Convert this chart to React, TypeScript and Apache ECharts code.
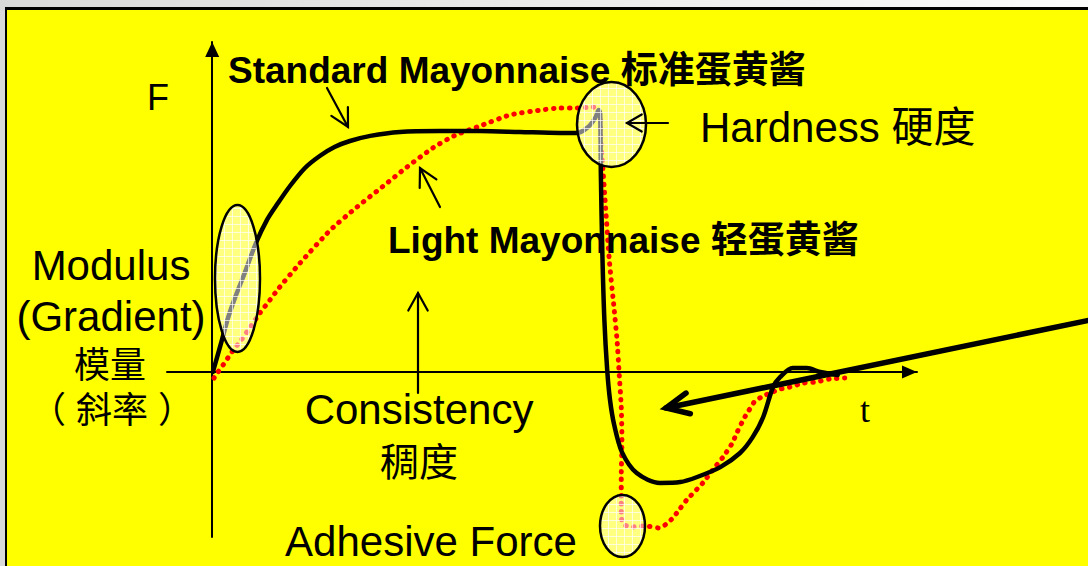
import { useEffect, useRef } from "react";
import * as echarts from "echarts";

// Standard mayonnaise curve: [t, F]
const standardCurve: [number, number][] = [
  [0.1, 0], [1.39, 10.7], [2.25, 18], [3.24, 24.7], [4.67, 33.3], [6.23, 43], [7.8, 50.7],
  [9.36, 56.3], [11.07, 62], [13.2, 68], [15.3, 72], [17.4, 75], [19.6, 77], [22.5, 78.7],
  [26.7, 80], [32.4, 80.3], [38.1, 80.3], [43.8, 80], [49.5, 79.7], [51.9, 79.7], [53.5, 81.7],
  [54.5, 84.7], [55.0, 87.3], [55.2, 86.3], [55.3, 65.7], [55.5, 40.7], [55.8, 17.3],
  [56.2, 0.7], [56.6, -9.3], [57.2, -17.7], [58.3, -26.7], [60.4, -33.7], [63.7, -37], [66.6, -36.7],
  [69.0, -35], [72.3, -31.7], [75.1, -27], [76.9, -21.7], [78.4, -15], [79.8, -5], [80.8, -1.7],
  [82.6, 1.3], [84.6, 1.3], [86.5, 0], [89.0, -1],
];

// Light mayonnaise curve: [t, F]
const lightCurve: [number, number][] = [
  [0.26, -2], [0.83, 0], [1.54, 2.3], [2.82, 6.7], [4.24, 11], [5.52, 15.3], [6.8, 19.7],
  [8.22, 24], [9.5, 28], [12.5, 36.3], [16.8, 47.3], [20.6, 55], [24.2, 61.7], [27.7, 68.3],
  [31.4, 74.7], [34.4, 78.7], [38.1, 82], [42.4, 85.7], [46.7, 87.3], [49.5, 88], [51.9, 88],
  [54.2, 88.3], [54.9, 87.3], [55.2, 85], [55.3, 77.3], [55.5, 70.7], [55.9, 57.3], [56.5, 37.3],
  [57.2, 20.7], [57.6, 10.7], [57.9, -0.3], [58.2, -11.7], [58.3, -22.7], [58.2, -35], [58.2, -42.7],
  [58.2, -48.3], [58.5, -50.7], [59.5, -51.7], [61.6, -51.3], [63.6, -52], [64.6, -50.7], [65.4, -49],
  [66.1, -47], [67.5, -42.7], [69.8, -37], [71.2, -32.7], [72.7, -28.3], [74.0, -23.7], [74.7, -20],
  [75.4, -16.7], [76.1, -13.7], [76.8, -11.3], [77.2, -9.7], [78.2, -8.3], [79.4, -7], [80.8, -5.7],
  [82.2, -5], [84.1, -3.7], [86.0, -3.3], [87.9, -2.3], [90.0, -2],
];

const X_MIN = -6.43;
const X_MAX = 100.28;
const Y_MIN = -55;
const Y_MAX = 110;

const SANS = "'Liberation Sans', Arial, 'Noto Sans CJK SC', sans-serif";
const SERIF = "'Liberation Serif', 'Times New Roman', serif";

function arrow(x1: number, y1: number, x2: number, y2: number, len: number, ang: number, w: number) {
  const a = Math.atan2(y1 - y2, x1 - x2);
  const r = (ang * Math.PI) / 180;
  const p1 = [x2 + len * Math.cos(a + r), y2 + len * Math.sin(a + r)];
  const p2 = [x2 + len * Math.cos(a - r), y2 + len * Math.sin(a - r)];
  return [
    { type: "line", z: 20, shape: { x1, y1, x2, y2 }, style: { stroke: "#000", lineWidth: w, lineCap: "round" } },
    { type: "polyline", z: 20, shape: { points: [p1, [x2, y2], p2] }, style: { stroke: "#000", lineWidth: w, fill: null, lineCap: "round", lineJoin: "miter" } },
  ];
}

function label(text: string, x: number, y: number, size: number, align: string, bold = false, family = SANS) {
  return {
    type: "text", z: 30, x, y,
    style: {
      text, fill: "#000", fontSize: size, fontFamily: family, fontWeight: bold ? "bold" : "normal",
      align, textAlign: align, verticalAlign: "middle", textVerticalAlign: "middle",
    },
  };
}

function ellipse(cx: number, cy: number, rx: number, ry: number) {
  const els: any[] = [
    { type: "ellipse", z: 10, shape: { cx, cy, rx, ry }, style: { fill: "rgba(255,255,255,0.5)", stroke: null } },
  ];
  const step = 8;
  const lineStyle = { stroke: "rgba(255,255,255,0.7)", lineWidth: 1 };
  for (let x = Math.ceil((cx - rx) / step) * step; x < cx + rx; x += step) {
    const k = 1 - ((x - cx) / rx) ** 2;
    if (k <= 0) continue;
    const h = ry * Math.sqrt(k);
    els.push({ type: "line", z: 11, shape: { x1: x + 0.5, y1: cy - h, x2: x + 0.5, y2: cy + h }, style: lineStyle });
  }
  for (let y = Math.ceil((cy - ry) / step) * step; y < cy + ry; y += step) {
    const k = 1 - ((y - cy) / ry) ** 2;
    if (k <= 0) continue;
    const w = rx * Math.sqrt(k);
    els.push({ type: "line", z: 11, shape: { x1: cx - w, y1: y + 0.5, x2: cx + w, y2: y + 0.5 }, style: lineStyle });
  }
  els.push({ type: "ellipse", z: 12, shape: { cx, cy, rx, ry }, style: { fill: null, stroke: "#000", lineWidth: 2.5 } });
  return els;
}

export default function App() {
  const ref = useRef<HTMLDivElement>(null);
  useEffect(() => {
    const chart = echarts.init(ref.current!, null, { renderer: "svg", width: 1088, height: 566 });

    const graphic: any[] = [
      ...ellipse(237.5, 278.5, 22.5, 73.5),
      ...ellipse(611.5, 124.5, 34.5, 42.5),
      ...ellipse(622.5, 526, 22.5, 31),
      ...arrow(327, 88, 348, 127, 20, 28, 2.2),
      ...arrow(440, 207, 420, 168, 20, 28, 2.2),
      ...arrow(418, 393, 418, 293, 20, 29, 2.2),
      ...arrow(668, 123, 627, 123, 17, 30, 2.2),
      ...arrow(1095, 319, 666, 408, 25, 25, 5.5),
      label("F", 158, 97, 36, "center"),
      label("Standard Mayonnaise 标准蛋黄酱", 228, 70, 37, "left", true),
      label("Hardness 硬度", 700, 127, 42, "left"),
      label("Light Mayonnaise 轻蛋黄酱", 388, 240, 37, "left", true),
      label("Modulus", 111, 265, 42, "center"),
      label("(Gradient)", 111, 316, 42, "center"),
      label("模量", 110, 365, 36, "center"),
      label("（ 斜率 ）", 112, 410, 36, "center"),
      label("Consistency", 419, 409, 42, "center"),
      label("稠度", 419, 462, 39, "center"),
      label("Adhesive Force", 431, 541, 42, "center"),
      label("t", 865, 410, 36, "center", false, SERIF),
    ];

    chart.setOption({
      animation: false,
      backgroundColor: "transparent",
      grid: { left: 167, top: 42, width: 750, height: 495, containLabel: false, outerBoundsMode: "none" },
      xAxis: {
        type: "value", min: X_MIN, max: X_MAX,
        axisLine: { onZero: true, lineStyle: { color: "#000", width: 2 }, symbol: ["none", "triangle"], symbolSize: [13, 15], symbolOffset: [0, -7.5] },
        axisTick: { show: false }, axisLabel: { show: false }, splitLine: { show: false },
      },
      yAxis: {
        type: "value", min: Y_MIN, max: Y_MAX,
        axisLine: { show: true, onZero: true, lineStyle: { color: "#000", width: 2 }, symbol: ["none", "triangle"], symbolSize: [14, 15], symbolOffset: [0, -7.5] },
        axisTick: { show: false }, axisLabel: { show: false }, splitLine: { show: false },
      },
      series: [
        {
          name: "Light Mayonnaise", type: "line", data: lightCurve, smooth: 0.2, symbol: "none", silent: true, z: 3,
          lineStyle: { color: "#ff0000", width: 5, type: [0.5, 7.5], cap: "round" },
        },
        {
          name: "Standard Mayonnaise", type: "line", data: standardCurve, smooth: 0.3, symbol: "none", silent: true, z: 4,
          lineStyle: { color: "#000", width: 4.5, cap: "round", join: "round" },
        },
      ],
      graphic,
    });
    return () => chart.dispose();
  }, []);

  return (
    <div style={{ position: "fixed", left: 0, top: 0, width: 1088, height: 566, overflow: "hidden", background: "linear-gradient(to right, #d9d9d9, #fbfbfb)" }}>
      <div style={{ position: "absolute", left: 5, top: 7, right: -10, bottom: -10, background: "#ffff00", borderLeft: "2px solid #000", borderTop: "3px solid #000" }} />
      <div ref={ref} style={{ position: "absolute", left: 0, top: 0, width: 1088, height: 566 }} />
    </div>
  );
}
